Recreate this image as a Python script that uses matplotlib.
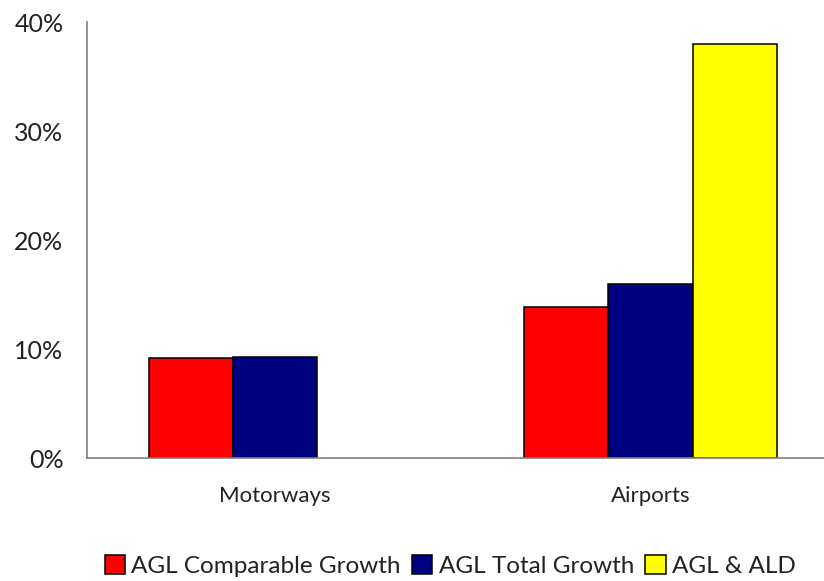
import numpy as np
import matplotlib
matplotlib.use("Agg")
import matplotlib.pyplot as plt
from matplotlib.ticker import FuncFormatter

plt.rcParams["font.family"] = ["Lato", "DejaVu Sans"]

categories = ["Motorways", "Airports"]
series = ["AGL Comparable Growth", "AGL Total Growth", "AGL & ALD"]
comparable = [9.15, 13.9]
total = [9.3, 16.0]
agl_ald = [np.nan, 38.0]
colors = ["#FF0000", "#000080", "#FFFF00"]

fig = plt.figure(figsize=(8.24, 5.81), dpi=100)
ax = fig.add_axes([87 / 824, 1 - 458 / 581, 1 - 87 / 824, (458 - 22.3) / 581])

x = np.arange(len(categories))
w = 0.224
for i, (vals, c, name) in enumerate(zip([comparable, total, agl_ald], colors, series)):
    ax.bar(x + (i - 1) * w, vals, w, color=c, edgecolor="black", linewidth=1.1, label=name)

ax.set_ylim(0, 40)
ax.set_xlim(-0.5, 1.462)
ax.set_yticks([0, 10, 20, 30, 40])
ax.yaxis.set_major_formatter(FuncFormatter(lambda v, _: f"{v:.0f}%"))
ax.set_xticks(x)
ax.set_xticklabels(categories, fontsize=16, color="#222222")
ax.tick_params(axis="y", length=0, pad=17, labelsize=18, labelcolor="#222222")
ax.tick_params(axis="x", length=0, pad=20)

for s in ["top", "right"]:
    ax.spines[s].set_visible(False)
for s in ["left", "bottom"]:
    ax.spines[s].set_color("#808080")
    ax.spines[s].set_linewidth(1.2)

handles, labels = ax.get_legend_handles_labels()
fig.legend(handles, labels, loc="center", bbox_to_anchor=(450 / 824, 1 - 566 / 581),
           ncol=3, frameon=False, fontsize=17.5, handlelength=0.85, handleheight=0.85,
           handletextpad=0.25, columnspacing=0.45, labelcolor="#222222")

fig.savefig("out.png", dpi=100)
